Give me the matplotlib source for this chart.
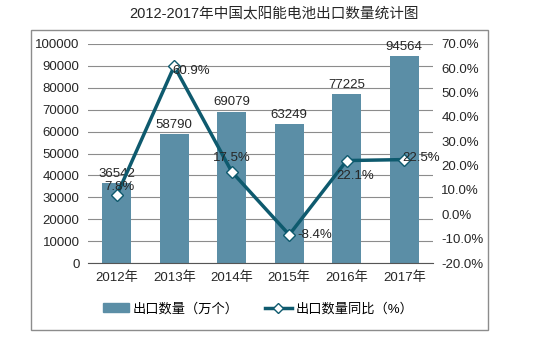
import matplotlib.pyplot as plt
import numpy as np
from matplotlib.patches import Rectangle

plt.rcParams['font.family'] = ['Liberation Sans', 'Noto Sans CJK SC', 'DejaVu Sans']

years = ['2012年', '2013年', '2014年', '2015年', '2016年', '2017年']
export_qty = [36542, 58790, 69079, 63249, 77225, 94564]
yoy_pct = [7.8, 60.9, 17.5, -8.4, 22.1, 22.5]

bar_color = '#5b8ea6'
line_color = '#0e5a6e'
txt = '#262626'

fig = plt.figure(figsize=(5.49, 3.37), dpi=100)
fig.patches.append(Rectangle((31 / 549, 1 - 330 / 337), 457 / 549, 300 / 337,
                             transform=fig.transFigure, fill=False,
                             edgecolor='#8c8c8c', lw=1))
ax = fig.add_axes([88 / 549, 1 - 263 / 337, 345 / 549, 219 / 337])
x = np.arange(len(years))
ax.bar(x, export_qty, width=0.5, color=bar_color, zorder=2)
ax.set_xlim(-0.5, 5.5)
ax.set_ylim(0, 100000)
ax.set_yticks(range(0, 100001, 10000))
ax.set_xticks(x)
ax.set_xticklabels(years)
ax.grid(axis='y', color='#8c8c8c', lw=0.8, zorder=0)
for s in ['top', 'left', 'right']:
    ax.spines[s].set_visible(False)
ax.spines['bottom'].set_color('#555555')
ax.tick_params(length=0, labelsize=9.5, colors=txt, pad=6)
for i, v in enumerate(export_qty):
    ax.text(i, v + 1500, str(v), ha='center', va='bottom', fontsize=9.5, color=txt)

ax2 = ax.twinx()
ax2.plot(x, yoy_pct, color=line_color, lw=2.5, marker='D', markersize=6,
         markerfacecolor='white', markeredgecolor=line_color, markeredgewidth=1, zorder=3)
ax2.set_ylim(-20, 70)
ax2.set_yticks(range(-20, 71, 10))
ax2.set_yticklabels(['%.1f%%' % v for v in range(-20, 71, 10)])
for s in ax2.spines.values():
    s.set_visible(False)
ax2.tick_params(length=0, labelsize=9.5, colors=txt, pad=6)

offsets = [(0.05, 3.5), (0.3, -2.0), (0.0, 5.5), (0.45, 0.0), (0.15, -6.5), (0.3, 0.5)]
for i, v in enumerate(yoy_pct):
    dx, dy = offsets[i]
    ax2.text(i + dx, v + dy, '%.1f%%' % v, ha='center', va='center', fontsize=9.5, color=txt)

fig.text(0.5, 1 - 14 / 337, '2012-2017年中国太阳能电池出口数量统计图', ha='center', va='center',
         fontsize=10.5, color=txt)

h1 = Rectangle((0, 0), 1, 1, color=bar_color)
h2, = ax2.plot([], [], color=line_color, lw=2.5, marker='D', markersize=5,
               markerfacecolor='white', markeredgecolor=line_color)
fig.legend([h1, h2], ['出口数量（万个）', '出口数量同比（%）'], loc='center',
           bbox_to_anchor=(0.47, 1 - 309 / 337), ncol=2, frameon=False, fontsize=9.5,
           handlelength=2.0, handletextpad=0.3, columnspacing=2.0)

fig.savefig('out.png', dpi=100)
